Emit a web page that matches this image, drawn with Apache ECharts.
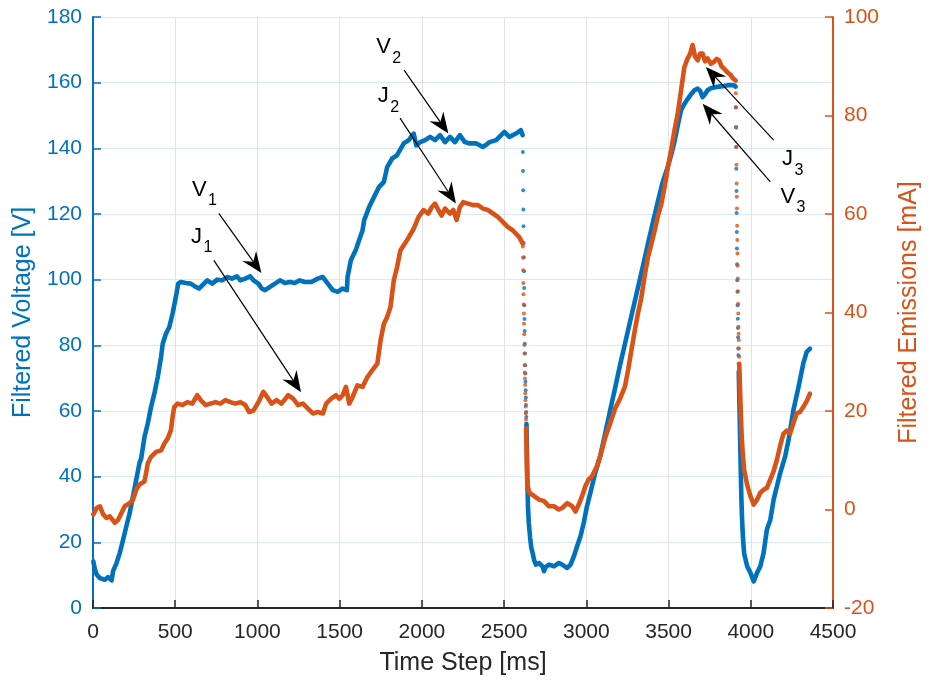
<!DOCTYPE html>
<html>
<head>
<meta charset="utf-8">
<title>Filtered Voltage and Emissions</title>
<script src="https://cdn.jsdelivr.net/npm/echarts@6/dist/echarts.min.js"></script>
<style>
  html, body { margin: 0; padding: 0; background: #ffffff; width: 930px; height: 686px; overflow: hidden; }
  #chart { position: absolute; left: 0; top: 0; width: 930px; height: 686px; }
</style>
</head>
<body>
<div id="chart"></div>
<script>
// ---- Measured signals: [time step (ms), value] ----
// Voltage (left axis, V), continuous stretches
const voltageRun1 = [[2,14.2],[12,11.7],[22,10.2],[42,9.1],[72,8.6],[92,9.4],[113,8.4],[122,11.2],[143,13.7],[163,16.8],[183,20.8],[203,24.9],[223,28.9],[243,34],[263,39.1],[283,44.2],[293,45.5],[313,52.1],[333,56.2],[353,61.2],[373,65.3],[394,70.4],[414,76.5],[424,80.5],[444,83.6],[464,85.6],[484,89.7],[504,94.7],[518,98.8],[534,99.3],[564,99.0],[594,98.8],[625,97.8],[645,97.3],[665,98.3],[695,99.8],[725,98.8],[755,100],[785,99.8],[815,100.8],[845,100.3],[876,101],[896,99.8],[926,100.3],[956,101],[976,99.8],[1006,98.8],[1026,97.3],[1046,96.8],[1076,97.8],[1107,98.8],[1137,99.8],[1167,99.0],[1197,99.3],[1227,99.0],[1257,99.8],[1287,99.3],[1327,99.3],[1367,100.3],[1398,100.8],[1428,98.8],[1458,96.8],[1488,96.3],[1518,97.3],[1544,96.8],[1548,100.8],[1568,105.9],[1598,109],[1618,112],[1639,115],[1649,118.1],[1679,122.1],[1709,125.2],[1739,128.2],[1769,129.8],[1789,134.3],[1819,136.9],[1849,137.9],[1890,141.5],[1920,142.5],[1950,144.5],[1966,140.9],[1990,141.9],[2020,142.5],[2050,143.5],[2080,142.5],[2110,144],[2141,141.9],[2171,143.5],[2201,141.9],[2231,144],[2261,141.9],[2291,141.5],[2331,141.5],[2372,140.4],[2412,141.9],[2452,142.5],[2482,144],[2502,145],[2532,143.5],[2572,144.5],[2602,145.5],[2613,144]];
const voltageRun2 = [[2636,56],[2639,47],[2642,38],[2645,31],[2650,26],[2658,21.5],[2665,18.5],[2673,16.8],[2683,14.5],[2693,13.2],[2713,13.7],[2733,12.7],[2743,11.2],[2753,12.5],[2773,13.2],[2803,12.7],[2833,13.7],[2853,13.2],[2884,12.2],[2904,13.2],[2924,15.7],[2944,18.8],[2964,21.8],[2984,25.9],[3004,31],[3024,35],[3054,41.1],[3084,46.2],[3114,53],[3144,60],[3175,67],[3205,74],[3235,80.5],[3265,87],[3295,93.5],[3325,100],[3355,106.5],[3375,111],[3405,117.5],[3436,124],[3466,130],[3496,134.5],[3516,138],[3536,142],[3556,147],[3576,151.6],[3596,153.5],[3616,155],[3637,156.5],[3657,157.7],[3677,158.2],[3692,157.5],[3707,155.6],[3722,156.5],[3737,157.7],[3757,158.3],[3777,158.5],[3807,158.8],[3837,159],[3867,159.3],[3898,159.2],[3908,158.8]];
const voltageRun3 = [[3927,72],[3931,62],[3935,52],[3939,42],[3943,33],[3948,26],[3953,21],[3960,16.5],[3978,12.7],[3998,10.7],[4018,8.1],[4038,10.7],[4058,12.7],[4078,16.8],[4098,23.9],[4119,26.9],[4139,33],[4159,37.1],[4179,41.1],[4209,46.2],[4229,51],[4259,60.2],[4289,67],[4319,74.4],[4340,78],[4360,79]];
// Voltage samples during the fast fall-offs (drawn as separate dots)
const voltageFall1 = [[2614,138.9],[2615,133.1],[2616,127.2],[2617,121.4],[2618,116.3],[2619,111.2],[2620,106.8],[2621,102.6],[2622,97.5],[2623,92.2],[2624,88.0],[2625,84.4],[2626,80.5],[2627,77.5],[2628,73.9],[2629,71.4],[2630,68.9],[2631,66.3],[2632,64.1],[2633,61.8],[2634,59.7],[2635,58.2]];
const voltageFall2 = [[3909,152.5],[3910,146.5],[3911,140.4],[3912,133.8],[3913,127],[3914,120.3],[3915,114.5],[3916,109.5],[3917,104.7],[3918,99.8],[3919,96.3],[3920,92.2],[3921,88.1],[3922,85.3],[3923,82.5],[3924,79],[3925,77],[3926,74.4]];

// Emission current (right axis, mA), continuous stretches
const emissionRun1 = [[2,-1.0],[22,0.3],[42,0.65],[62,-1.0],[82,-1.7],[102,-1.4],[133,-2.7],[153,-2.1],[173,-0.7],[193,0.65],[223,1.3],[243,2.0],[263,4.0],[283,5.1],[313,5.7],[323,7.4],[333,9.4],[353,10.7],[384,11.7],[414,12.0],[434,13.4],[454,14.4],[474,16.1],[484,18.8],[494,20.8],[514,21.5],[544,21.2],[574,21.8],[604,21.5],[634,23.2],[655,22.2],[685,21.2],[715,21.5],[745,21.8],[775,21.5],[805,22.2],[836,21.8],[866,21.5],[896,21.8],[926,21.2],[950,19.8],[976,20.1],[1006,21.8],[1036,23.9],[1066,22.5],[1086,21.5],[1116,22.2],[1146,21.5],[1187,23.2],[1217,22.5],[1247,21.2],[1277,21.5],[1307,20.5],[1337,19.5],[1367,19.8],[1398,19.5],[1418,21.5],[1448,22.5],[1478,23.2],[1498,22.5],[1518,23.2],[1538,24.9],[1558,21.5],[1578,22.8],[1608,25.2],[1639,24.9],[1669,26.9],[1699,28.3],[1729,29.6],[1749,34.4],[1769,37.7],[1789,39.1],[1809,41.1],[1829,46.5],[1849,49.2],[1869,52.6],[1910,54.7],[1950,57],[1980,59.4],[2010,60.8],[2040,60.1],[2060,61.4],[2080,62.1],[2100,60.8],[2120,59.7],[2141,61.1],[2171,60.1],[2191,60.8],[2211,58.8],[2231,61.4],[2251,62.4],[2281,62.1],[2311,61.8],[2341,61.8],[2372,61.1],[2402,60.8],[2432,60.1],[2462,59.4],[2492,58.4],[2522,57.4],[2552,56.7],[2592,55.3],[2613,54]];
const emissionRun2 = [[2634,16.5],[2636,13],[2638,9],[2640,6],[2645,4.5],[2653,3.4],[2683,2.7],[2713,2.0],[2743,1.7],[2773,0.65],[2803,0.65],[2833,0],[2853,0.3],[2884,1.3],[2914,0.65],[2934,-0.4],[2954,1.0],[2974,2.7],[2994,4.7],[3014,6.1],[3034,6.7],[3064,8.8],[3084,10.8],[3114,14.5],[3145,17.5],[3175,20.5],[3205,22.5],[3235,25],[3255,28.5],[3275,32.5],[3295,36.4],[3315,40],[3335,43.1],[3355,47.5],[3375,51.3],[3396,54],[3416,56.7],[3436,59.7],[3456,62],[3476,65.5],[3496,69.5],[3516,73],[3536,77],[3556,80.4],[3576,85.1],[3596,89.8],[3616,91.6],[3631,92.5],[3646,94.3],[3661,92],[3677,91.2],[3692,92.6],[3707,92.6],[3722,91],[3737,91.6],[3757,90.5],[3777,90.9],[3792,91.5],[3807,91.2],[3822,90],[3837,89.5],[3857,88.8],[3878,88.2],[3893,87.5],[3908,87.1]];
const emissionRun3 = [[3930,29.6],[3935,24],[3940,19],[3945,14.7],[3952,11],[3960,8],[3978,5],[3998,2.7],[4018,1.0],[4038,2.0],[4058,3.4],[4078,4.0],[4098,4.4],[4119,6.1],[4139,7.8],[4159,10.1],[4179,13],[4199,15.4],[4219,16],[4239,15.4],[4259,17.5],[4279,19.5],[4299,19.8],[4319,20.8],[4340,22],[4360,23.5]];
const emissionFall1 = [[2614,53.4],[2615,51.1],[2616,48.6],[2617,46],[2618,43.7],[2619,41.6],[2620,39.8],[2621,37.7],[2622,35.6],[2623,33.4],[2624,31.7],[2625,29.3],[2626,27.8],[2627,26.6],[2628,25.3],[2629,23.6],[2630,22.2],[2631,20.9],[2632,19.5],[2633,18.2]];
const emissionFall2 = [[3909,84.5],[3910,81.6],[3911,77.5],[3912,73.6],[3913,70],[3914,66.2],[3915,63.5],[3916,61.1],[3917,57.6],[3918,54.7],[3919,52],[3920,49.5],[3921,46.9],[3922,44.3],[3923,41.8],[3924,39.8],[3925,37.1],[3926,35.7],[3927,34.4],[3928,32.7],[3929,31]];

// Axis titles
const xTitle = 'Time Step [ms]';
const leftTitle = 'Filtered Voltage [V]';
const rightTitle = 'Filtered Emissions [mA]';

// Callouts, in [time step, voltage] coordinates of the left axis
const callouts = [
  { sym: 'V', sub: '1', label: [602, 127.4], tail: [765, 120.2], tip: [1024, 102.0] },
  { sym: 'J', sub: '1', label: [596, 113.1], tail: [735, 105.9], tip: [1265, 65.7] },
  { sym: 'V', sub: '2', label: [1723, 170.8], tail: [1892, 163.8], tip: [2161, 144.5] },
  { sym: 'J', sub: '2', label: [1732, 155.9], tail: [1867, 149.2], tip: [2207, 123.2] },
  { sym: 'J', sub: '3', label: [4190, 136.7], tail: [4139, 142.5], tip: [3727, 164.8] },
  { sym: 'V', sub: '3', label: [4181, 125.3], tail: [4119, 129.8], tip: [3707, 153.6] }
];

const BLUE = '#0072BD';
const ORANGE = '#D95319';
const DARK = '#262626';
const FONT = '"Liberation Sans", Arial, Helvetica, sans-serif';

const chart = echarts.init(document.getElementById('chart'), null, { renderer: 'canvas', width: 930, height: 686 });

function runSeries(name, data, color, yIndex) {
  return {
    name: name, type: 'line', data: data, yAxisIndex: yIndex,
    showSymbol: false, symbol: 'none', smooth: false,
    lineStyle: { color: color, width: 4.6, cap: 'round', join: 'round' },
    itemStyle: { color: color }, silent: true
  };
}
function dotSeries(name, data, color, yIndex) {
  return {
    name: name, type: 'scatter', data: data, yAxisIndex: yIndex,
    symbol: 'circle', symbolSize: 4, itemStyle: { color: color }, silent: true
  };
}
const plainNumber = function (v) { return String(v); };

chart.setOption({
  animation: false,
  backgroundColor: '#ffffff',
  textStyle: { fontFamily: FONT },
  grid: { left: 93, right: 90, top: 17, bottom: 78, containLabel: false },
  xAxis: {
    type: 'value', min: 0, max: 4500, interval: 500,
    name: xTitle, nameLocation: 'middle', nameGap: 43,
    nameTextStyle: { color: DARK, fontSize: 25, fontFamily: FONT },
    axisLine: { show: true, onZero: false, lineStyle: { color: DARK, width: 2 } },
    axisTick: { show: true, inside: true, length: 8, lineStyle: { color: DARK, width: 1.5 } },
    axisLabel: { color: DARK, fontSize: 21, margin: 14, fontFamily: FONT, formatter: plainNumber },
    splitLine: { show: true, lineStyle: { color: '#dfe2e7', width: 1 } }
  },
  yAxis: [
    {
      type: 'value', position: 'left', min: 0, max: 180, interval: 20,
      name: leftTitle, nameLocation: 'middle', nameGap: 57,
      nameTextStyle: { color: BLUE, fontSize: 25, fontFamily: FONT },
      axisLine: { show: true, lineStyle: { color: BLUE, width: 2 } },
      axisTick: { show: true, inside: true, length: 8, lineStyle: { color: BLUE, width: 1.5 } },
      axisLabel: { color: BLUE, fontSize: 21, margin: 11, fontFamily: FONT, formatter: plainNumber },
      splitLine: { show: true, lineStyle: { color: '#d9e9f5', width: 1 } }
    },
    {
      type: 'value', position: 'right', min: -20, max: 100, interval: 20,
      name: rightTitle, nameLocation: 'middle', nameGap: 64,
      nameTextStyle: { color: ORANGE, fontSize: 25, fontFamily: FONT },
      axisLine: { show: true, lineStyle: { color: ORANGE, width: 2 } },
      axisTick: { show: true, inside: true, length: 8, lineStyle: { color: ORANGE, width: 1.5 } },
      axisLabel: { color: ORANGE, fontSize: 21, margin: 11, fontFamily: FONT, formatter: plainNumber },
      splitLine: { show: false }
    }
  ],
  series: [
    runSeries('Voltage', voltageRun1, BLUE, 0),
    runSeries('Voltage', voltageRun2, BLUE, 0),
    runSeries('Voltage', voltageRun3, BLUE, 0),
    dotSeries('Voltage', voltageFall1, BLUE, 0),
    dotSeries('Voltage', voltageFall2, BLUE, 0),
    runSeries('Emissions', emissionRun1, ORANGE, 1),
    runSeries('Emissions', emissionRun2, ORANGE, 1),
    runSeries('Emissions', emissionRun3, ORANGE, 1),
    dotSeries('Emissions', emissionFall1, ORANGE, 1),
    dotSeries('Emissions', emissionFall2, ORANGE, 1)
  ]
});

// Callout arrows and labels, placed through the axes' own coordinate mapping
function toPx(p) {
  return chart.convertToPixel({ xAxisIndex: 0, yAxisIndex: 0 }, p);
}
const HEAD_LEN = 21, HEAD_HALF = 8.5, NOTCH = 14;
const graphics = [];
callouts.forEach(function (c) {
  const a = toPx(c.tail), b = toPx(c.tip);
  const dx = b[0] - a[0], dy = b[1] - a[1];
  const len = Math.sqrt(dx * dx + dy * dy);
  const ux = dx / len, uy = dy / len, px = -uy, py = ux;
  const back = [b[0] - ux * HEAD_LEN, b[1] - uy * HEAD_LEN];
  const notch = [b[0] - ux * NOTCH, b[1] - uy * NOTCH];
  graphics.push({
    type: 'line', silent: true, z: 50,
    shape: { x1: a[0], y1: a[1], x2: notch[0], y2: notch[1] },
    style: { stroke: '#000000', lineWidth: 1.2 }
  });
  graphics.push({
    type: 'polygon', silent: true, z: 50,
    shape: { points: [b, [back[0] + px * HEAD_HALF, back[1] + py * HEAD_HALF], notch, [back[0] - px * HEAD_HALF, back[1] - py * HEAD_HALF]] },
    style: { fill: '#000000' }
  });
  const l = toPx(c.label);
  const subDx = c.sym === 'V' ? 16 : 12.5;
  graphics.push({
    type: 'text', silent: true, z: 50, x: l[0], y: l[1],
    style: { text: c.sym, fontSize: 22, fontFamily: FONT, fill: '#000000', align: 'left', verticalAlign: 'middle' }
  });
  graphics.push({
    type: 'text', silent: true, z: 50, x: l[0] + subDx, y: l[1] + 11,
    style: { text: c.sub, fontSize: 16, fontFamily: FONT, fill: '#000000', align: 'left', verticalAlign: 'middle' }
  });
});
chart.setOption({ graphic: graphics });
</script>
</body>
</html>
